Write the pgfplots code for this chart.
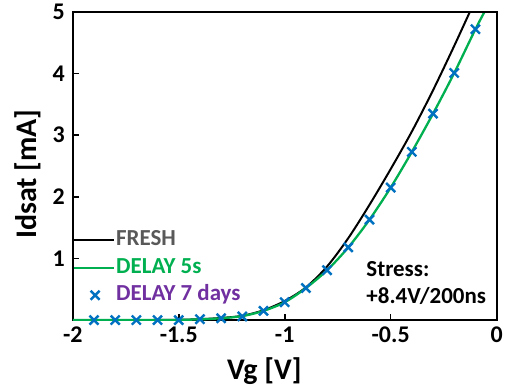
\documentclass[border=0pt]{standalone}
\usepackage{fontspec}
\setmainfont{Carlito}
\usepackage{pgfplots}
\pgfplotsset{compat=1.18}
\definecolor{cgreen}{HTML}{00B050}
\definecolor{cblue}{HTML}{0070C0}
\definecolor{cgray}{HTML}{595959}
\definecolor{cpurple}{HTML}{7030A0}
\pgfplotsset{
  lineleg/.style={legend image code/.code={\draw[##1] (0pt,0pt) -- (40pt,0pt);}},
  markleg/.style={legend image code/.code={\draw[mark repeat=2,mark phase=2,##1] plot coordinates {(0pt,0pt)(21pt,0pt)(42pt,0pt)};}},
}
\begin{document}
\begin{tikzpicture}
\begin{axis}[
  at={(0,0)}, anchor=south west,
  scale only axis, width=425pt, height=309pt,
  xmin=-2, xmax=0, ymin=0, ymax=5,
  xtick={-2,-1.5,-1,-0.5,0}, xticklabels={-2,-1.5,-1,-0.5,0},
  ytick={1,2,3,4,5}, yticklabels={1,2,3,4,5},
  tick align=inside, tick pos=left, major tick length=6pt,
  tick style={line width=1.6pt, black},
  axis line style={line width=2pt},
  every tick label/.append style={font=\fontsize{24}{28}\selectfont\bfseries},
  yticklabel style={xshift=-4.5pt},
  xticklabel style={yshift=-3.5pt},
  xlabel={Vg [V]}, ylabel={Idsat [mA]},
  label style={font=\fontsize{30}{34}\selectfont\bfseries},
  xlabel style={at={(axis description cs:0.452,-0.194)}, anchor=base},
  ylabel style={at={(axis description cs:-0.0847,0.474)}, anchor=base},
  legend style={at={(axis description cs:0,0.2997)}, anchor=north west, draw=none, fill=none,
    font=\fontsize{23}{27}\selectfont\bfseries, inner sep=0pt, row sep=2.5pt,
    nodes={inner sep=1pt, text height=17pt, text depth=6pt}},
  legend cell align=left,
  lineleg,
]
\addplot[black, line width=2pt, smooth] coordinates {
(-2,0) (-1.8,0) (-1.6,0.002) (-1.5,0.005) (-1.4,0.015) (-1.3,0.035) (-1.2,0.07) (-1.1,0.16)
(-1.0,0.31) (-0.9,0.53) (-0.8,0.87) (-0.7,1.33) (-0.6,1.87) (-0.5,2.45) (-0.4,3.06)
(-0.3,3.73) (-0.2,4.45) (-0.1,5.2)};
\addlegendentry{\textcolor{cgray}{FRESH}}
\addplot[cgreen, line width=2.3pt, smooth] coordinates {
(-2,0) (-1.8,0) (-1.6,0.002) (-1.5,0.004) (-1.4,0.012) (-1.3,0.03) (-1.2,0.065) (-1.1,0.15)
(-1.0,0.29) (-0.9,0.52) (-0.8,0.81) (-0.7,1.18) (-0.6,1.63) (-0.5,2.15) (-0.4,2.73)
(-0.3,3.35) (-0.2,4.01) (-0.1,4.72) (-0.05,5.05) (0,5.4)};
\addlegendentry{\textcolor{cgreen}{DELAY 5s}}
\addplot[cblue, only marks, mark=x, mark size=6.4pt, line width=2.4pt, markleg]
 coordinates {
(-1.9,0) (-1.8,0) (-1.7,0) (-1.6,0) (-1.5,0) (-1.4,0.015) (-1.3,0.03) (-1.2,0.06) (-1.1,0.15)
(-1.0,0.29) (-0.9,0.52) (-0.8,0.81) (-0.7,1.18) (-0.6,1.63) (-0.5,2.15) (-0.4,2.73)
(-0.3,3.35) (-0.2,4.01) (-0.1,4.72)};
\addlegendentry{\textcolor{cpurple}{DELAY 7 days}}
\node[anchor=west, font=\fontsize{23}{27}\selectfont\bfseries, inner sep=0pt] at (axis cs:-0.615,0.836) {Stress:};
\node[anchor=west, font=\fontsize{23}{27}\selectfont\bfseries, inner sep=0pt] at (axis cs:-0.615,0.388) {+8.4V/200ns};
\draw[line width=2pt] (rel axis cs:0,1) -- (rel axis cs:1,1) -- (rel axis cs:1,0);
\end{axis}
\path[use as bounding box] (-73pt,-69pt) rectangle (433pt,321pt);
\end{tikzpicture}
\end{document}
